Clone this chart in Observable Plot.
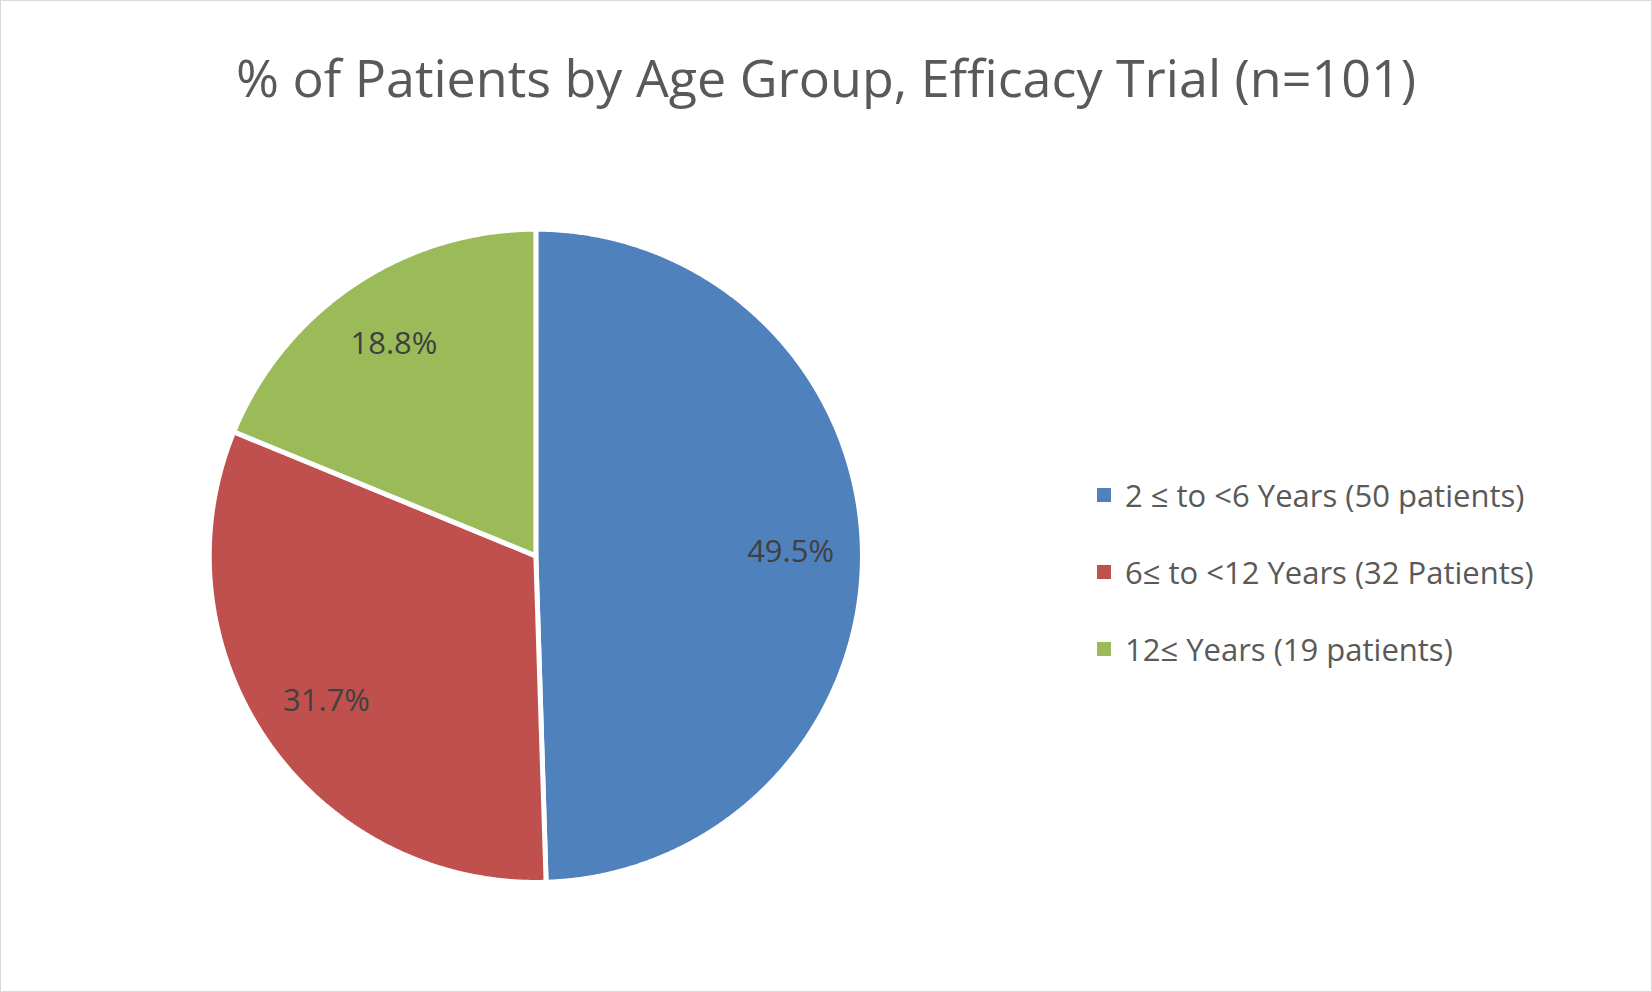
<!DOCTYPE html>
<html><head><meta charset="utf-8">
<script src="https://cdn.jsdelivr.net/npm/d3@7"></script>
<script src="https://cdn.jsdelivr.net/npm/@observablehq/plot@0.6"></script>
<style>
body{margin:0;background:#fff;font-family:"Open Sans","Noto Sans",sans-serif;}
#wrap{position:relative;width:1650px;height:990px;border:1px solid #d9d9d9;overflow:hidden;}
#title{position:absolute;left:0;width:1650px;top:40px;text-align:center;font-size:52px;color:#595959;}
#legend{position:absolute;left:1096px;top:455px;font-size:31px;color:#595959;}
.li{height:77px;display:flex;align-items:center;}
.sw{width:14px;height:14px;margin-right:14px;}
#chart{position:absolute;left:0;top:0;}
</style></head><body>
<div id="wrap"><div id="chart"></div><div id="title">% of Patients by Age Group, Efficacy Trial (n=101)</div><div id="legend"></div></div>
<script>
const categories = ["2 ≤ to <6 Years (50 patients)", "6≤ to <12 Years (32 Patients)", "12≤ Years (19 patients)"];
const values = [49.5, 31.7, 18.8];
const labels = ["49.5%", "31.7%", "18.8%"];
const colors = ["#4F81BD", "#C0504D", "#9BBB59"];

const W = 1652, H = 992, cx = 535, cy = 555, R = 327;
const total = d3.sum(values);
const pts = [], labs = [];
let a0 = 0;
values.forEach((v, i) => {
  const a1 = a0 + v / total * 2 * Math.PI;
  pts.push({k: i, x: 0, y: 0});
  const n = Math.max(2, Math.ceil((a1 - a0) / 0.005));
  for (let j = 0; j <= n; j++) {
    const a = a0 + (a1 - a0) * j / n;
    pts.push({k: i, x: Math.sin(a), y: Math.cos(a)});
  }
  pts.push({k: i, x: 0, y: 0});
  const am = (a0 + a1) / 2;
  labs.push({x: 0.78 * Math.sin(am), y: 0.78 * Math.cos(am), t: labels[i]});
  a0 = a1;
});

const plot = Plot.plot({
  width: W, height: H, margin: 0,
  x: {domain: [-cx / R, (W - cx) / R], range: [0, W], axis: null},
  y: {domain: [-(H - cy) / R, cy / R], range: [H, 0], axis: null},
  marks: [
    Plot.line(pts, {x: "x", y: "y", z: "k", fill: d => colors[d.k], stroke: "white", strokeWidth: 5, strokeLinejoin: "round", curve: "linear"}),
    Plot.text(labs, {x: "x", y: "y", text: "t", fontSize: 31, fill: "#404040", fontFamily: "Open Sans"})
  ]
});
document.getElementById("chart").appendChild(plot);
const lg = document.getElementById("legend");
categories.forEach((c, i) => {
  lg.insertAdjacentHTML("beforeend", `<div class="li"><div class="sw" style="background:${colors[i]}"></div>${c}</div>`);
});
</script></body></html>
